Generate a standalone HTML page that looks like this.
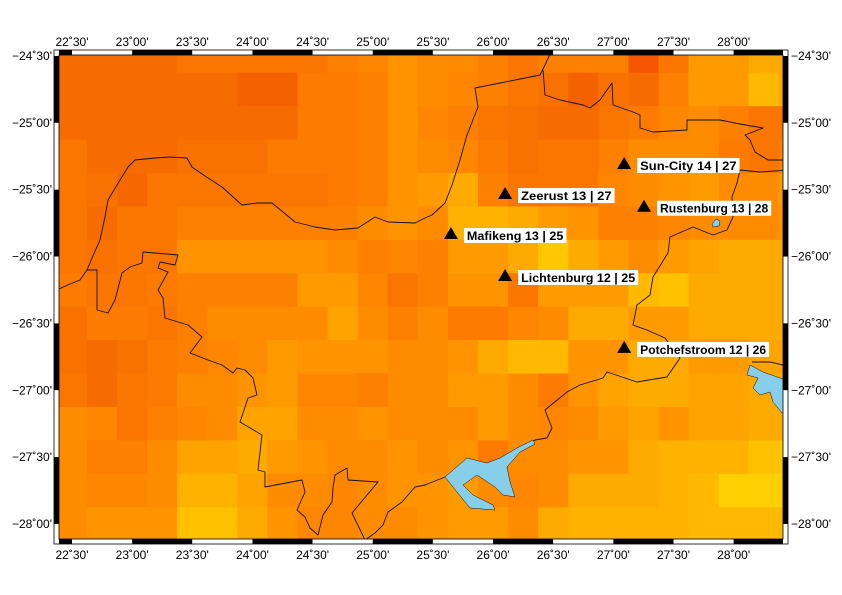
<!DOCTYPE html>
<html><head><meta charset="utf-8"><title>Map</title>
<style>html,body{margin:0;padding:0;background:#fff}svg{display:block}
text{font-family:"Liberation Sans",sans-serif}</style></head>
<body>
<svg id="map" width="842" height="595" viewBox="0 0 842 595" xmlns="http://www.w3.org/2000/svg">
<defs><clipPath id="clip"><rect x="59" y="55" width="724" height="484"/></clipPath></defs>
<g id="cells" clip-path="url(#clip)"></g>
<g id="borders" clip-path="url(#clip)" fill="none" stroke="#111" stroke-width="0.9" stroke-linejoin="round">
<polyline points="59,289 70,284 80,280 87,270 92,258 100,240 105,217 108,200 117,185 128,167 135,160 155,158 170,157 187,158 192,167 205,176 222,187 242,205 257,203 272,203 283,212 295,222 315,227 335,230 358,228 375,217 388,222 415,223 425,218 432,215 445,203 452,185 460,160 467,135 478,107 475,88 500,83 520,79 540,75 545,65 552,50"/>
<polyline points="543,70 545,95 560,100 583,105 590,108 600,100 612,83 613,105 633,112 640,115 640,128 653,132 670,131 687,130 687,120 720,120 740,124 763,128 745,135 750,140 755,152 768,160 790,160"/>
<polyline points="790,170 760,172 740,170 737,183 732,197 733,217 727,230 713,235 693,227 670,237 668,253 653,277 650,295 637,305 633,325 647,330 665,338 680,358 667,377 637,382 607,372 603,378 580,385 567,392 545,410 552,428 547,438 535,440 523,448 513,458 503,465 493,465 470,465 445,477 425,485 415,487 402,502 388,512 383,525 375,533 365,540 352,513 378,482 348,480 347,468 335,475 333,488 332,502 323,515 318,535 310,528 305,517 297,510 305,492 302,480 265,487 265,472 258,470 262,435 240,422 248,398 257,395 253,378 245,370 237,368 233,373 222,365 208,360 190,353 202,337 188,325 165,318 163,298 158,290 168,272 158,268 160,262 175,265 178,255 143,252 142,263 130,267 122,273 115,300 108,313 97,310 97,270 87,270"/>
<polyline points="783,365 770,362 752,362"/>
</g>
<g clip-path="url(#clip)" fill="#87ceeb" stroke="#111" stroke-width="0.5">
<polygon points="445,477 467,458 487,463 500,458 517,448 533,440 535,444 520,452 507,467 510,482 515,497 503,495 495,487 477,475 463,485 473,495 493,505 495,510 470,508 457,492"/>
<polygon points="747,375 750,365 763,372 780,378 785,380 785,413 782,413 773,402 770,392 760,395 753,388 758,378"/>
<polygon points="712,224 716,219 720,221 719,226 713,227"/>
</g>
<g id="frame"></g>
<g id="labels" font-size="12" fill="#000"></g>
<g id="cities"></g>
</svg>
<script>
const values = [
[2,2,2,2,3,3,3,3,3,4,4.5,5.5,5,5,4,3,4,4,4,1,3,6,6,7,7],
[2,2,2,2,2,2,1.5,1.5,3.5,3.5,4,5.5,5,4.5,4,3,2.5,1.5,2.5,2,4,6,6,8,7],
[2,2,2,2,2,2,2,2,3.5,3.5,4,5.5,4.5,4,3,2.5,2,2,3,3.5,4.5,5,4,3,3],
[3,2,2,2,2.5,2.5,2.5,3.5,3.5,3.5,4,5.5,5,4.5,3.5,2.5,3,3,4,5,5,5,3.5,3,4],
[3,2.5,1.8,3,3,3,3,3,3,3.5,4,5.5,6,7,4,3,3,3,4.5,5,5.5,6,5,5,6],
[3,2,3,3,4,4,4,4,4,4,5,5.5,5,7.5,7.5,7,6,5.5,4,4,4.5,5,5,5,5.5],
[3,2.5,3,3,5.5,5.5,5.5,5.5,5.5,5,4,4.5,4,6,6,7,9,7,6,5,6,6.5,7,7,7],
[3.5,3,3,3.5,4,4,4,4,6,6,4.5,3,4,5.5,5.5,3,6,6,6,8,8.5,7,7,7,7],
[2.5,3.5,3.5,3,4,5,5,5,5,6.5,5,4,5,3.5,3.5,4.5,5,7,7,6,6,7,7,7,7],
[2.5,2,2.5,3.5,4,4.5,5,6,5.5,5.5,5.5,5,5,5.5,7,8,8,5.5,5.5,7,7,6,6,6.5,6.5],
[3,2,3,3.5,5,5,5.5,6,4.5,4.5,4,5,5,6,6,5,3.5,5.5,6.5,7,7,6.5,6.5,7,7],
[5,4.5,3,4,4.5,5,6.5,6.5,5,5,5.5,5,5,5,6,5,4.5,5,6,6.5,5.5,6.5,6.5,7,7],
[5,4,4,5,6.5,6.5,7,6,5.5,5,5,5.5,5,5.5,3.5,5,5,5.5,5.5,7,7.5,7.5,7.5,8.5,9],
[5,4.5,4.5,5,7.5,7.5,6.5,5,5,4.5,5,5.5,5.5,6,5,4.5,5,7,7,7,7.5,8,9.5,9.5,9.5],
[5,5.5,5.5,5.5,8.5,8.5,7,5.5,4.5,4.5,5,5,5.5,6,6,5,7,7.5,7.5,7.5,7.5,8,8,8,8]
];
const lonTicks = [22.5,23,23.5,24,24.5,25,25.5,26,26.5,27,27.5,28];
const lonTickLabels = ["22˚30'","23˚00'","23˚30'","24˚00'","24˚30'","25˚00'","25˚30'","26˚00'","26˚30'","27˚00'","27˚30'","28˚00'"];
const latTicks = [-24.5,-25,-25.5,-26,-26.5,-27,-27.5,-28];
const latTickLabels = ["−24˚30'","−25˚00'","−25˚30'","−26˚00'","−26˚30'","−27˚00'","−27˚30'","−28˚00'"];
const cityNames = ["Sun-City 14 | 27","Zeerust 13 | 27","Rustenburg 13 | 28","Mafikeng 13 | 25","Lichtenburg 12 | 25","Potchefstroom 12 | 26"];
const cityLon = [27.09,26.10,27.255,25.65,26.10,27.09];
const cityLat = [-25.30,-25.525,-25.62,-25.824,-26.138,-26.676];

const X = lon => 72 + (lon - 22.5) * 120.3;
const Y = lat => 56 + (-24.5 - lat) * 133.7;
const NS = "http://www.w3.org/2000/svg";
function mk(tag, attrs, parent){const e=document.createElementNS(NS,tag);for(const k in attrs)e.setAttribute(k,attrs[k]);parent.appendChild(e);return e;}
const stops=[[1,[245,85,0]],[2,[247,108,0]],[3,[250,118,0]],[4,[253,128,0]],[5,[255,140,0]],[6,[255,155,0]],[7,[255,170,0]],[8,[255,186,0]],[9,[255,200,0]],[10,[255,214,0]]];
function color(v){
  if(v<=stops[0][0])return `rgb(${stops[0][1]})`;
  for(let i=1;i<stops.length;i++){if(v<=stops[i][0]){const a=stops[i-1],b=stops[i],t=(v-a[0])/(b[0]-a[0]);
    return `rgb(${a[1].map((c,j)=>Math.round(c+(b[1][j]-c)*t)).join(',')})`;}}
  return `rgb(${stops[stops.length-1][1]})`;
}
const cells=document.getElementById('cells');
const lon0=22.375, lat0=-24.375, step=0.25;
values.forEach((row,r)=>row.forEach((v,c)=>{
  const x1=X(lon0+c*step), x2=X(lon0+(c+1)*step), y1=Y(lat0-r*step), y2=Y(lat0-(r+1)*step);
  const e=mk('rect',{x:x1,y:y1,width:x2-x1+0.5,height:y2-y1+0.5,fill:color(v)},cells);
  
  
}));
const fr=document.getElementById('frame');
const L=59,R=783,T=55,B=539,W=5;
function band(horizontal, pos){
  if(horizontal){
    for(let lon=22;lon<28.5;lon+=0.5){
      const a=Math.max(L,X(lon)), b=Math.min(R,X(lon+0.5)); if(b<=a)continue;
      const black=Math.round(lon*2)%2===0;
      const s=mk('rect',{x:a,y:pos,width:b-a,height:W,fill:black?'#000':'#fff'},fr);
      
      
    }
  } else {
    for(let lat=-24;lat>-28.5;lat-=0.5){
      const a=Math.max(T,Y(lat)), b=Math.min(B,Y(lat-0.5)); if(b<=a)continue;
      const black=Math.round(-lat*2)%2===1;
      const s=mk('rect',{x:pos,y:a,width:W,height:b-a,fill:black?'#000':'#fff'},fr);
      
      
    }
  }
}
band(true,T-W);band(true,B);band(false,L-W);band(false,R);
mk('rect',{x:L-W,y:T-W,width:R-L+2*W,height:B-T+2*W,fill:'none',stroke:'#000','stroke-width':0.8},fr);
mk('rect',{x:L,y:T,width:R-L,height:B-T,fill:'none',stroke:'#000','stroke-width':0.8},fr);
const lb=document.getElementById('labels');
lonTicks.forEach((lon,i)=>{
  let t=mk('text',{x:X(lon),y:46,'text-anchor':'middle'},lb);t.textContent=lonTickLabels[i];
  
  
  t=mk('text',{x:X(lon),y:559,'text-anchor':'middle'},lb);t.textContent=lonTickLabels[i];
  
  
});
latTicks.forEach((lat,i)=>{
  let t=mk('text',{x:52,y:Y(lat)+4,'text-anchor':'end'},lb);t.textContent=latTickLabels[i];
  
  
  t=mk('text',{x:791,y:Y(lat)+4,'text-anchor':'start'},lb);t.textContent=latTickLabels[i];
  
  
});
const cg=document.getElementById('cities');
cityNames.forEach((n,i)=>{
  const cx=X(cityLon[i]), cy=Y(cityLat[i]);
  const g=mk('g',{},cg);
  
  
  mk('polygon',{points:`${cx-7},${cy+6} ${cx+7},${cy+6} ${cx},${cy-6}`,fill:'#000'},g);
  const tw=n.length*5.9+2;
  mk('rect',{x:cx+13,y:cy-5,width:tw+6,height:15,fill:'#fff'},g);
  const t=mk('text',{x:cx+16,y:cy+7,'font-size':'12','font-weight':'bold',fill:'#000',textLength:tw,lengthAdjust:'spacingAndGlyphs'},g);
  t.textContent=n;
  
  
});
</script>
</body></html>
